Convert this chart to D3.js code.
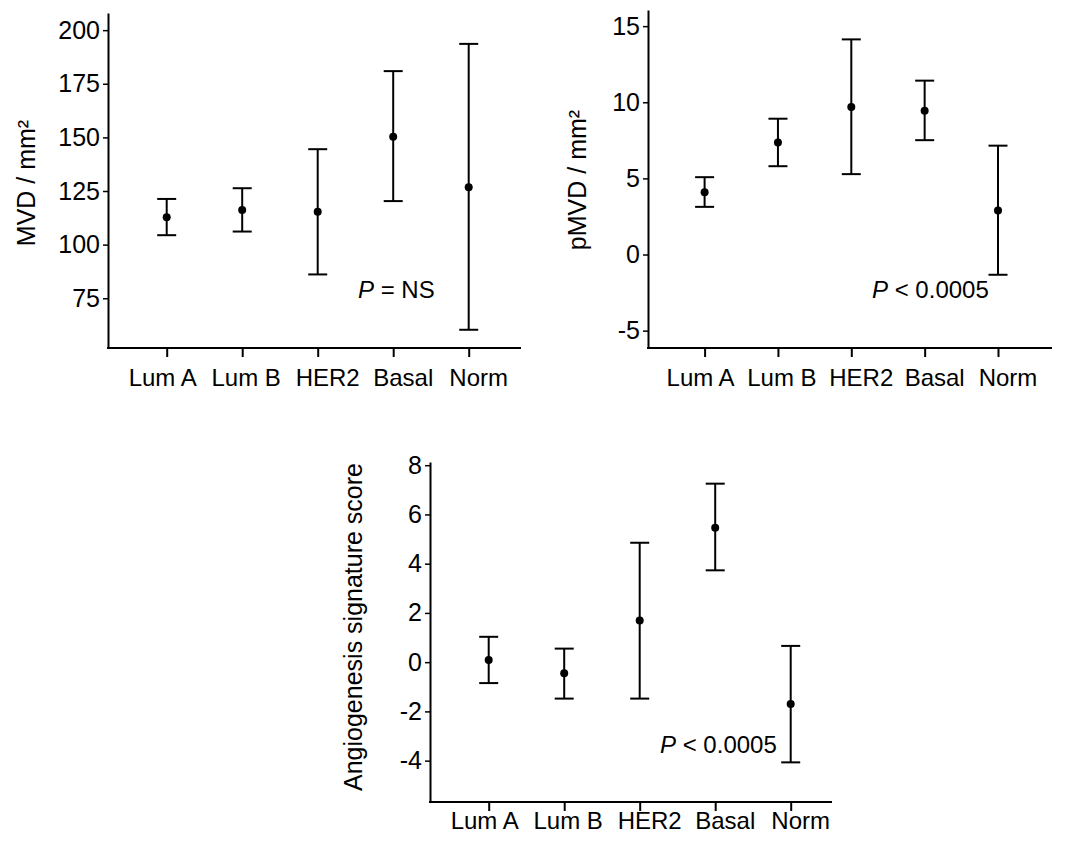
<!DOCTYPE html>
<html>
<head>
<meta charset="utf-8">
<script src="https://cdn.jsdelivr.net/npm/d3@7"></script>
<style>
  body { margin: 0; background: #fff; }
  svg { display: block; font-family: "Liberation Sans", Arial, sans-serif; }
</style>
</head>
<body>
<svg id="chart" width="1077" height="845"></svg>
<script>
// categories shared by all three panels
let categories = ["Lum A", "Lum B", "HER2", "Basal", "Norm"];

// MVD / mm2
let mvdMean = [112.8, 116.2, 115.3, 150.3, 126.8];
let mvdLow = [104.4, 106.1, 86.1, 120.3, 60.3];
let mvdHigh = [121.3, 126.3, 144.5, 180.9, 193.6];
let mvdTicks = [75, 100, 125, 150, 175, 200];

// pMVD / mm2
let pmvdMean = [4.09, 7.35, 9.69, 9.45, 2.89];
let pmvdLow = [3.13, 5.80, 5.28, 7.51, -1.33];
let pmvdHigh = [5.08, 8.92, 14.13, 11.42, 7.15];
let pmvdTicks = [-5, 0, 5, 10, 15];

// angiogenesis signature score
let angioMean = [0.09, -0.45, 1.69, 5.46, -1.70];
let angioLow = [-0.85, -1.48, -1.48, 3.73, -4.07];
let angioHigh = [1.03, 0.55, 4.85, 7.25, 0.66];
let angioTicks = [-4, -2, 0, 2, 4, 6, 8];

let svg = d3.select("#chart");

// small shift of the category labels relative to their tick (as in the figure)
let labelShift = [-4, 4, 10, 10, 10];

function drawPanel(p) {
    let g = svg.append("g");

    let yScale = d3.scaleLinear().domain(p.yDomain).range([p.bottom, p.top]);
    let xScale = d3.scalePoint().domain(categories).range([p.left + p.firstX, p.left + p.lastX]);

    // y axis (plain hyphen for negatives, like the figure)
    let yAxis = d3.axisLeft(yScale).tickValues(p.ticks).tickSize(5).tickSizeOuter(0).tickPadding(3)
        .tickFormat(d => String(d));
    let yg = g.append("g").attr("transform", "translate(" + p.left + ",0)").call(yAxis);
    yg.attr("font-size", null).attr("font-family", null);
    yg.select(".domain").attr("stroke-width", 2);
    yg.selectAll(".tick line").attr("stroke-width", 1.5);
    yg.selectAll("text").style("font-size", "25px").attr("fill", "#000");

    // x axis line
    g.append("line")
        .attr("x1", p.left - 1).attr("x2", p.right)
        .attr("y1", p.bottom).attr("y2", p.bottom)
        .attr("stroke", "#000").attr("stroke-width", 2);

    let xAxis = d3.axisBottom(xScale).tickSize(9).tickFormat("");
    let xg = g.append("g").attr("transform", "translate(0," + p.bottom + ")").call(xAxis);
    xg.select(".domain").remove();
    xg.selectAll(".tick line").attr("stroke-width", 2);

    g.selectAll(".xlab").data(categories).enter().append("text")
        .attr("class", "xlab")
        .attr("x", (d, i) => xScale(d) + labelShift[i])
        .attr("y", p.bottom + p.labelGap)
        .attr("text-anchor", "middle")
        .style("font-size", "24px")
        .text(d => d);

    // y title
    g.append("text")
        .attr("transform", "translate(" + p.titleX + "," + p.titleY + ") rotate(-90)")
        .attr("text-anchor", "middle")
        .attr("dominant-baseline", "central")
        .style("font-size", "25px")
        .text(p.title);

    // error bars
    let rows = categories.map((c, i) => ({ cat: c, mean: p.mean[i], low: p.low[i], high: p.high[i] }));
    let cap = 9.5;
    let bars = g.selectAll(".bar").data(rows).enter().append("g").attr("class", "bar");
    bars.append("line")
        .attr("x1", d => xScale(d.cat)).attr("x2", d => xScale(d.cat))
        .attr("y1", d => yScale(d.low)).attr("y2", d => yScale(d.high))
        .attr("stroke", "#000").attr("stroke-width", 2);
    bars.append("line")
        .attr("x1", d => xScale(d.cat) - cap).attr("x2", d => xScale(d.cat) + cap)
        .attr("y1", d => yScale(d.high)).attr("y2", d => yScale(d.high))
        .attr("stroke", "#000").attr("stroke-width", 2);
    bars.append("line")
        .attr("x1", d => xScale(d.cat) - cap).attr("x2", d => xScale(d.cat) + cap)
        .attr("y1", d => yScale(d.low)).attr("y2", d => yScale(d.low))
        .attr("stroke", "#000").attr("stroke-width", 2);
    bars.append("circle")
        .attr("cx", d => xScale(d.cat)).attr("cy", d => yScale(d.mean))
        .attr("r", 4).attr("fill", "#000");

    // P value note
    let pt = g.append("text")
        .attr("x", p.left + p.noteDx)
        .attr("y", yScale(p.noteY))
        .style("font-size", "24px");
    pt.append("tspan").attr("font-style", "italic").text("P");
    pt.append("tspan").text(p.note);
}

drawPanel({
    mean: mvdMean, low: mvdLow, high: mvdHigh, ticks: mvdTicks,
    yDomain: [51.8, 208], top: 13, bottom: 348, left: 108, right: 521,
    firstX: 58.7, lastX: 360.7, labelGap: 38,
    title: "MVD / mm²", titleX: 26, titleY: 183,
    note: " = NS", noteDx: 250, noteY: 75
});

drawPanel({
    mean: pmvdMean, low: pmvdLow, high: pmvdHigh, ticks: pmvdTicks,
    yDomain: [-6.14, 16.06], top: 10, bottom: 348, left: 648, right: 1052,
    firstX: 56.6, lastX: 350, labelGap: 38,
    title: "pMVD / mm²", titleX: 577, titleY: 180,
    note: " < 0.0005", noteDx: 224, noteY: -2.84
});

drawPanel({
    mean: angioMean, low: angioLow, high: angioHigh, ticks: angioTicks,
    yDomain: [-5.68, 8.13], top: 462, bottom: 802, left: 430, right: 832,
    firstX: 58.7, lastX: 360.7, labelGap: 27,
    title: "Angiogenesis signature score", titleX: 353, titleY: 627,
    note: " < 0.0005", noteDx: 230, noteY: -3.68
});
</script>
</body>
</html>
